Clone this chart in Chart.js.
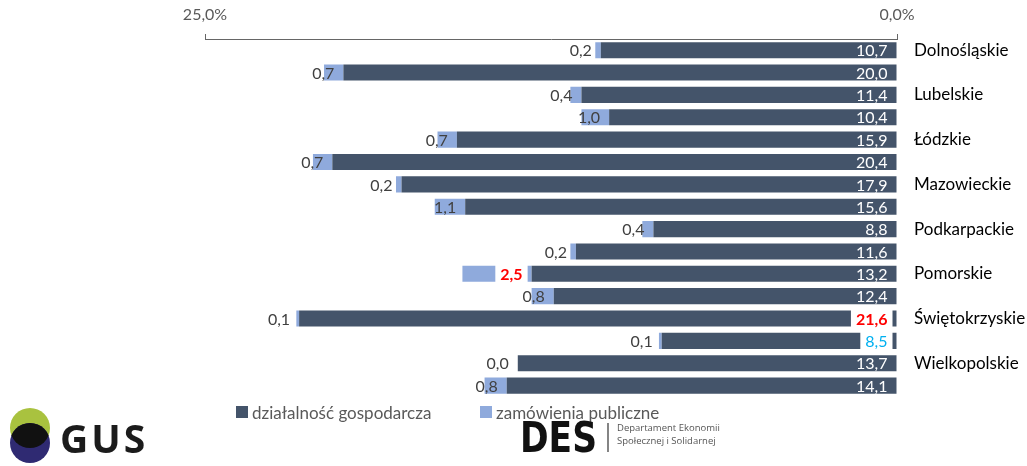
<!DOCTYPE html>
<html><head><meta charset="utf-8">
<script src="https://cdn.jsdelivr.net/npm/chart.js@4.4.0/dist/chart.umd.min.js"></script>
<style>
html,body{margin:0;padding:0;background:#fff;width:1027px;height:466px;overflow:hidden}
#wrap{position:relative;width:1027px;height:466px}
#c{position:absolute;left:0;top:0}
#legend{position:absolute;left:236px;top:402px;font-family:Lato,sans-serif;font-size:17px;color:#595959;white-space:nowrap}
#legend .it{position:absolute;top:0;display:flex;align-items:center;height:20px}
#legend .bx{width:12px;height:12px;margin-right:4px}
#logos{position:absolute;left:0;top:395px}
</style>
</head><body>
<div id="wrap">
<canvas id="c" width="1027" height="424"></canvas>
<div id="legend"></div>
<svg id="logos" width="1027" height="71" xmlns="http://www.w3.org/2000/svg">
  <defs><clipPath id="cp"><circle cx="30" cy="33" r="20"/></clipPath></defs>
  <circle cx="30" cy="33" r="20" fill="#a9c23f"/>
  <circle cx="30" cy="48" r="20" fill="#2f2a72"/>
  <circle cx="30" cy="48" r="20" fill="#111" clip-path="url(#cp)"/>
  <text x="60" y="58" font-family="'Open Sans',sans-serif" font-weight="bold" font-size="39" fill="#1b1b1b" letter-spacing="3">GUS</text>
  <text x="520" y="57" font-family="'DejaVu Sans Condensed','Liberation Sans Narrow',sans-serif" font-weight="bold" font-size="42" fill="#111" textLength="77" lengthAdjust="spacingAndGlyphs">DES</text>
  <line x1="608" y1="28" x2="608" y2="57" stroke="#333" stroke-width="1.2"/>
  <text x="617" y="36" font-family="'Open Sans',sans-serif" font-size="9.5" fill="#555">Departament Ekonomii</text>
  <text x="617" y="49" font-family="'Open Sans',sans-serif" font-size="9.5" fill="#555">Społecznej i Solidarnej</text>
</svg>
</div>
<script>
const categories = ['Dolnośląskie','Kujawsko-pomorskie','Lubelskie','Lubuskie','Łódzkie','Małopolskie','Mazowieckie','Opolskie','Podkarpackie','Podlaskie','Pomorskie','Śląskie','Świętokrzyskie','Warmińsko-mazurskie','Wielkopolskie','Zachodniopomorskie'];
const dzialalnoscGospodarcza = [10.7,20.0,11.4,10.4,15.9,20.4,17.9,15.6,8.8,11.6,13.2,12.4,21.6,8.5,13.7,14.1];
const zamowieniaPubliczne = [0.2,0.7,0.4,1.0,0.7,0.7,0.2,1.1,0.4,0.2,2.5,0.8,0.1,0.1,0.0,0.8];
const seriesNames = ['działalność gospodarcza','zamówienia publiczne'];
const xTickValues = [0,25];

const seriesColors = ['#44546A','#8FAADC'];
const labelColors = ['#FFFFFF','#404040'];
const specialLabels = {
  '1-10': {color:'#FF0000', bold:true},
  '0-12': {color:'#FF0000', bold:true},
  '0-13': {color:'#00B0F0', bold:false}
};
const FONT = 'Lato, sans-serif';
const fmt = v => v.toFixed(1).replace('.', ',');

const valueLabels = {
  id:'valueLabels',
  afterDatasetsDraw(chart){
    const ctx = chart.ctx;
    ctx.save();
    chart.data.datasets.forEach((ds, di) => {
      const meta = chart.getDatasetMeta(di);
      meta.data.forEach((el, i) => {
        const txt = fmt(ds.data[i]);
        const sp = specialLabels[di + '-' + i];
        ctx.font = (sp && sp.bold ? 'bold ' : '') + '16px ' + FONT;
        const w = ctx.measureText(txt).width;
        const right = el.base - 9;
        if (sp) {
          ctx.fillStyle = '#FFFFFF';
          ctx.fillRect(right - w - 5, el.y - el.height/2 - 1, w + 10, el.height + 2);
        }
        ctx.fillStyle = sp ? sp.color : labelColors[di];
        ctx.textAlign = 'right';
        ctx.textBaseline = 'middle';
        ctx.fillText(txt, right, el.y + 1);
      });
    });
    ctx.restore();
  }
};

const chart = new Chart(document.getElementById('c'), {
  type:'bar',
  data:{
    labels:categories,
    datasets:[
      {label:seriesNames[0], data:dzialalnoscGospodarcza, backgroundColor:seriesColors[0], barPercentage:0.72, categoryPercentage:1},
      {label:seriesNames[1], data:zamowieniaPubliczne, backgroundColor:seriesColors[1], barPercentage:0.72, categoryPercentage:1}
    ]
  },
  options:{
    indexAxis:'y', responsive:false, animation:false,
    layout:{padding:{left:205, right:0, top:0, bottom:4}},
    plugins:{legend:{display:false}, tooltip:{enabled:false}},
    scales:{
      x:{
        position:'top', reverse:true, stacked:true, min:0, max:25,
        afterBuildTicks(s){ s.ticks = xTickValues.map(v => ({value:v})); },
        ticks:{callback:v => fmt(v) + '%', color:'#595959', font:{size:16, family:FONT}, padding:10, maxRotation:0, autoSkip:false},
        grid:{drawOnChartArea:false, drawTicks:true, tickLength:5, color:'#666'},
        border:{display:true, color:'#666'},
        afterFit(s){ s.height = 39; }
      },
      y:{
        position:'right', stacked:true,
        grid:{display:false, drawTicks:false}, border:{display:false},
        ticks:{autoSkip:false, callback:(v, i) => i % 2 === 0 ? categories[i] : '', color:'#000', font:{size:17, family:FONT}, padding:17},
        afterFit(s){ s.width = 130; }
      }
    }
  },
  plugins:[valueLabels]
});

const lg = document.getElementById('legend');
const legendOffsets = [0, 244];
seriesNames.forEach((n, i) => {
  const d = document.createElement('div');
  d.className = 'it';
  d.style.left = legendOffsets[i] + 'px';
  d.innerHTML = '<span class="bx" style="background:' + seriesColors[i] + '"></span><span>' + n + '</span>';
  lg.appendChild(d);
});
</script>
</body></html>
